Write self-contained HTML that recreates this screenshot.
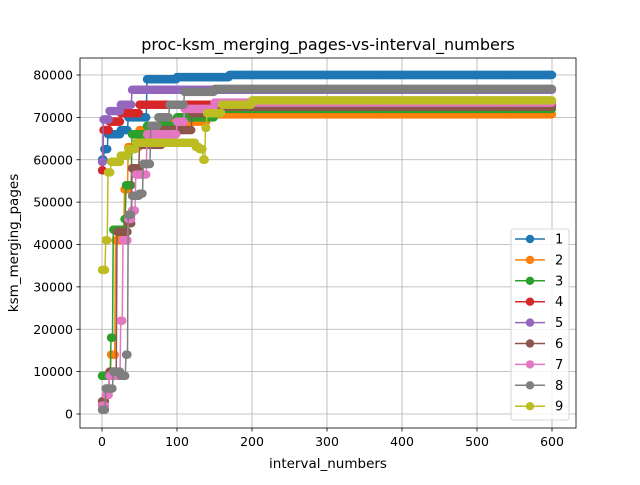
<!DOCTYPE html>
<html><head><meta charset="utf-8"><style>
body{margin:0;background:#fff;}
svg text{font-family:"DejaVu Sans","Liberation Sans",sans-serif;fill:#000;}
</style></head><body>
<svg id="chart" width="640" height="480" xmlns="http://www.w3.org/2000/svg">
<rect width="640" height="480" fill="#fff"/>
<g id="grid"></g>
<g id="plot"></g>
<rect x="80" y="58" width="496" height="370" fill="none" stroke="#000" stroke-width="0.8"/>
<g id="ticks"></g>
<text x="328" y="50" text-anchor="middle" font-size="16">proc-ksm_merging_pages-vs-interval_numbers</text>
<text x="328" y="468" text-anchor="middle" font-size="13.5">interval_numbers</text>
<text x="18" y="243" text-anchor="middle" font-size="13.5" transform="rotate(-90 18 243)">ksm_merging_pages</text>
<g id="legend"></g>
</svg>
<script>
const seriesNames=["1","2","3","4","5","6","7","8","9"];
const colors=["#1f77b4","#ff7f0e","#2ca02c","#d62728","#9467bd","#8c564b","#e377c2","#7f7f7f","#bcbd22"];
const xTicks=[0,100,200,300,400,500,600];
const yTicks=[0,10000,20000,30000,40000,50000,60000,70000,80000];
// step breakpoints [interval, value] per series
const s1=[[0,60000],[3,62500],[8,66000],[25,67000],[35,70000],[60,79000],[100,79500],[170,80000],[600,80000]];
const s2=[[0,9000],[12,14000],[18,41000],[30,53000],[35,63000],[50,67000],[80,69000],[140,70700],[600,70700]];
const s3=[[0,9000],[12,18000],[15,43500],[30,46000],[32,54000],[40,66000],[60,68000],[100,70000],[150,72000],[600,72000]];
const s4=[[0,57500],[2,67000],[10,69000],[25,71000],[50,73000],[600,73000]];
const s5=[[0,59500],[2,69500],[10,71500],[25,73000],[40,76500],[600,76500]];
const s6=[[0,3000],[5,6000],[10,10000],[20,43000],[35,45000],[40,58000],[50,63500],[80,67000],[120,71000],[160,72500],[600,72500]];
const s7=[[0,2000],[5,4500],[10,9000],[25,22000],[28,41000],[35,46000],[40,48000],[45,56500],[60,66000],[100,69000],[110,72000],[150,73500],[600,73500]];
const s8=[[0,1000],[5,6000],[15,10000],[25,9000],[32,14000],[35,47000],[40,51500],[50,52000],[55,59000],[65,68000],[75,70000],[90,73000],[110,76000],[150,76700],[600,76700]];
const s9=[[0,34000],[5,41000],[8,57000],[12,59500],[25,61000],[35,62500],[45,64000],[120,64000],[125,63000],[130,62500],[135,60000],[138,67500],[140,71000],[160,73000],[200,74000],[600,74000]];
const allSeries=[s1,s2,s3,s4,s5,s6,s7,s8,s9];
const NS="http://www.w3.org/2000/svg";
const X=v=>102+v*0.75;
const Y=v=>414-v*339/80000;
function mk(t,a,p){const e=document.createElementNS(NS,t);for(const k in a)e.setAttribute(k,a[k]);p.appendChild(e);return e;}
const grid=document.getElementById('grid'),ticks=document.getElementById('ticks');
xTicks.forEach(t=>{
 const g=mk('line',{x1:X(t),x2:X(t),y1:58,y2:428,stroke:'#b0b0b0','stroke-width':0.8},grid);
 
 
 mk('line',{x1:X(t),x2:X(t),y1:428,y2:431.5,stroke:'#000','stroke-width':0.8},ticks);
 const tx=mk('text',{x:X(t),y:446,'text-anchor':'middle','font-size':12.5},ticks);tx.textContent=t;
 
 
});
yTicks.forEach(t=>{
 const g=mk('line',{x1:80,x2:576,y1:Y(t),y2:Y(t),stroke:'#b0b0b0','stroke-width':0.8},grid);
 
 
 mk('line',{x1:76.5,x2:80,y1:Y(t),y2:Y(t),stroke:'#000','stroke-width':0.8},ticks);
 const tx=mk('text',{x:73,y:Y(t)+4.5,'text-anchor':'end','font-size':12.5},ticks);tx.textContent=t;
 
 
});
const plot=document.getElementById('plot');
allSeries.forEach((bp,i)=>{
 const g=mk('g',{},plot);
 
 
 const pts=[];let j=0;
 for(let x=0;x<=600;x+=1){while(j+1<bp.length&&bp[j+1][0]<=x)j++;pts.push([x,bp[j][1]]);}
 mk('polyline',{points:pts.map(p=>X(p[0])+','+Y(p[1])).join(' '),fill:'none',stroke:colors[i],'stroke-width':1.5},g);
 pts.forEach(p=>{const c=mk('circle',{cx:X(p[0]),cy:Y(p[1]),r:4.2,fill:colors[i]},g);
  
  });
});
const lg=document.getElementById('legend');
mk('rect',{x:511,y:229,width:58,height:191,rx:2,fill:'#fff','fill-opacity':0.8,stroke:'#ccc','stroke-width':0.8},lg);
seriesNames.forEach((n,i)=>{
 const y=239+i*20.9;
 const e=mk('g',{},lg);
 
 
 mk('line',{x1:515,x2:545,y1:y,y2:y,stroke:colors[i],'stroke-width':1.5},e);
 mk('circle',{cx:530,cy:y,r:4.2,fill:colors[i]},e);
 const t=mk('text',{x:555,y:y+4.5,'font-size':13},e);t.textContent=n;
});
</script>
</body></html>
